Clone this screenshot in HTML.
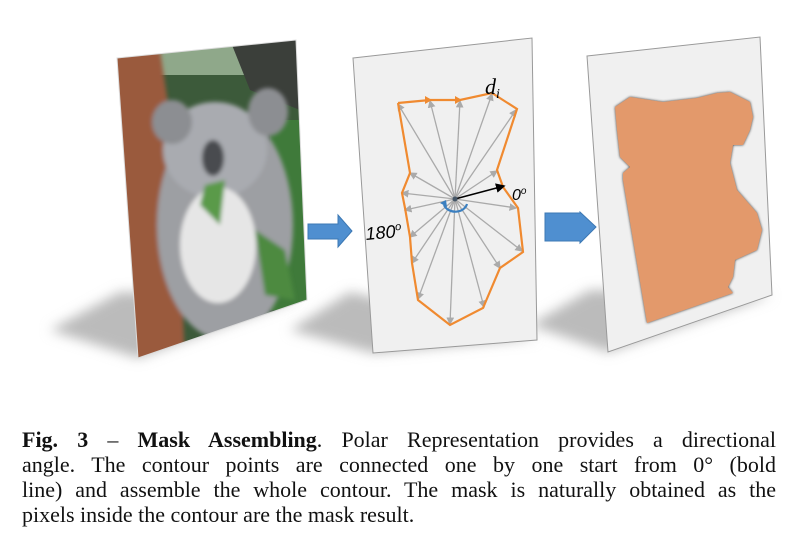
<!DOCTYPE html>
<html><head><meta charset="utf-8"><style>
body{margin:0;background:#fff;width:812px;height:555px;overflow:hidden;position:relative}
svg{position:absolute;left:0;top:0}
.cap{position:absolute;left:22px;top:427px;width:754px;font-family:"Liberation Serif",serif;font-size:22px;line-height:25px;color:#111}
.cap div{text-align:justify;text-align-last:justify;white-space:nowrap}
.cap div.l{text-align-last:left}
</style></head><body>
<svg width="812" height="420" viewBox="0 0 812 420">
<defs>
<filter id="bl" x="-50%" y="-50%" width="200%" height="200%"><feGaussianBlur stdDeviation="6"/></filter>
<filter id="b1"><feGaussianBlur stdDeviation="1.2"/></filter>
<filter id="b2"><feGaussianBlur stdDeviation="2"/></filter>
<clipPath id="kc"><polygon points="117,58 296,40 307,300 138,358"/></clipPath>
<marker id="ga" markerWidth="6" markerHeight="6" refX="5" refY="3" orient="auto"><path d="M0,0 L6,3 L0,6z" fill="#aaa"/></marker>
<marker id="ka" markerWidth="6" markerHeight="6" refX="5" refY="3" orient="auto"><path d="M0,0 L6,3 L0,6z" fill="#000"/></marker>
</defs>
<polygon points="138,358 50,330 120,292 300,298" fill="#bbb" filter="url(#bl)"/>
<polygon points="373,353 290,330 350,292 537,338" fill="#bbb" filter="url(#bl)"/>
<polygon points="608,352 530,325 590,290 772,295" fill="#bbb" filter="url(#bl)"/>
<g clip-path="url(#kc)">
<rect x="110" y="35" width="200" height="330" fill="#3c5a3a"/>
<rect x="150" y="35" width="100" height="40" fill="#8fa88a"/>
<polygon points="230,40 300,40 300,110 250,90" fill="#3b3f3a"/>
<rect x="270" y="120" width="40" height="190" fill="#3f7a3a"/>
<g filter="url(#b2)">
<polygon points="110,50 160,50 175,150 185,360 110,360" fill="#9a5a3c"/>
<ellipse cx="225" cy="225" rx="68" ry="115" fill="#9d9fa3"/>
<ellipse cx="215" cy="150" rx="52" ry="48" fill="#a9abb0"/>
<ellipse cx="172" cy="122" rx="20" ry="22" fill="#8c8e92"/>
<ellipse cx="268" cy="112" rx="20" ry="24" fill="#8c8e92"/>
<ellipse cx="218" cy="245" rx="38" ry="58" fill="#e6e6e6"/>
<ellipse cx="213" cy="158" rx="11" ry="18" fill="#4a4c50"/>
<polygon points="205,185 225,180 220,225 200,205" fill="#5a9a4a"/>
<polygon points="255,230 285,250 295,300 265,295" fill="#4d8a40"/>
</g>
</g>
<polygon points="117,58 296,40 307,300 138,358" fill="none" stroke="#ddd" stroke-width="1"/>
<polygon points="353,58 532,38 537,340 373,353" fill="#f0f0f0" stroke="#999" stroke-width="1"/>
<g stroke="#aaa" stroke-width="1.3" marker-end="url(#ga)">
<line x1="455" y1="199" x2="398" y2="104"/><line x1="455" y1="199" x2="430" y2="101"/>
<line x1="455" y1="199" x2="460" y2="101"/><line x1="455" y1="199" x2="492" y2="94"/>
<line x1="455" y1="199" x2="516" y2="110"/><line x1="455" y1="199" x2="497" y2="171"/>
<line x1="455" y1="199" x2="516" y2="208"/><line x1="455" y1="199" x2="522" y2="251"/>
<line x1="455" y1="199" x2="500" y2="268"/><line x1="455" y1="199" x2="484" y2="307"/>
<line x1="455" y1="199" x2="450" y2="324"/><line x1="455" y1="199" x2="418" y2="299"/>
<line x1="455" y1="199" x2="412" y2="263"/><line x1="455" y1="199" x2="410" y2="237"/>
<line x1="455" y1="199" x2="405" y2="210"/><line x1="455" y1="199" x2="402" y2="193"/>
<line x1="455" y1="199" x2="410" y2="173"/>
</g>
<polyline points="398,103 430,100 460,100 492,93 517,109 497,170 503,187 518,208 523,252 500,268 483,308 450,325 418,300 412,263 410,237 405,208 402,193 410,173 398,103" fill="none" stroke="#f08a30" stroke-width="2.2"/>
<g fill="#f08a30"><path d="M425,96 L432,100 L425,104z"/><path d="M455,96 L462,100 L455,104z"/></g>
<line x1="455" y1="199" x2="504" y2="186" stroke="#000" stroke-width="1.6" marker-end="url(#ka)"/>
<circle cx="455" cy="199" r="2.5" fill="#456"/>
<path d="M444,205 A12,10 0 0 0 467,204" fill="none" stroke="#3a7fc0" stroke-width="2.2"/>
<path d="M440,203 L446,200 L447,207z" fill="#3a7fc0"/>
<text x="485" y="94" font-family="Liberation Serif,serif" font-style="italic" font-size="22">d<tspan font-size="14" dy="4">i</tspan></text>
<text x="512" y="200" font-family="Liberation Sans,sans-serif" font-style="italic" font-size="16">0<tspan font-size="10" dy="-6">o</tspan></text>
<text x="366" y="240" font-family="Liberation Sans,sans-serif" font-style="italic" font-size="18" transform="rotate(-5 366 240)">180<tspan font-size="11" dy="-7">o</tspan></text>
<polygon points="587,56 760,37 772,295 608,352" fill="#f0f0f0" stroke="#999" stroke-width="1"/>
<polygon points="615,107 630,97 663,102 697,98 717,93 730,92 750,102 753,117 750,130 743,145 733,145 730,163 737,190 757,213 762,230 757,250 735,260 733,277 728,287 733,293 647,323 623,180 623,173 630,167 620,157 617,130" fill="#333" filter="url(#b1)"/>
<polygon points="615,107 630,97 663,102 697,98 717,93 730,92 750,102 753,117 750,130 743,145 733,145 730,163 737,190 757,213 762,230 757,250 735,260 733,277 728,287 733,293 647,323 623,180 623,173 630,167 620,157 617,130" fill="#e3996b"/>
<polygon points="308,224 338,224 338,215 352,231 338,247 338,239 308,239" fill="#4f8fd0" stroke="#3c78b4" stroke-width="1"/>
<polygon points="545,213 580,213 580,212 596,227 580,243 580,241 545,241" fill="#4f8fd0" stroke="#3c78b4" stroke-width="1"/>
</svg>
<div class="cap">
<div><b>Fig. 3</b> – <b>Mask Assembling</b>. Polar Representation provides a directional</div>
<div>angle. The contour points are connected one by one start from 0° (bold</div>
<div>line) and assemble the whole contour. The mask is naturally obtained as the</div>
<div class="l">pixels inside the contour are the mask result.</div>
</div>
</body></html>
